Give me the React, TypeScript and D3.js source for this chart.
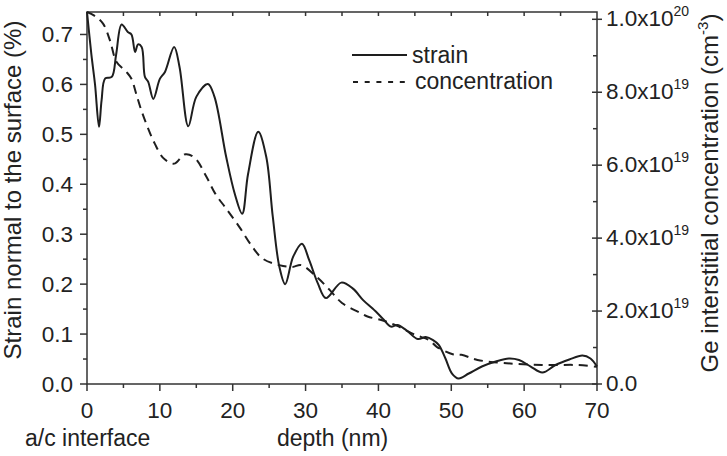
import React from "react";
import * as d3 from "d3";

// Strain normal to the surface (%) versus depth (nm)
const strainDepth = [0, 0.6, 1.1, 1.65, 2.0, 2.5, 3.4, 4.0, 4.75, 5.6, 6.1, 6.6, 7.0, 7.5, 7.95, 8.4, 9.1, 10.0, 10.7, 11.96, 12.7, 13.9, 15.0, 16.6, 17.5, 19.1, 20.3, 21.3, 22.1, 23.5, 24.6, 25.5, 26.4, 27.2, 28.3, 29.5, 30.5, 31.7, 32.8, 34.9, 36.5, 37.9, 39.2, 40.6, 41.7, 42.6, 43.8, 45.4, 46.5, 47.5, 48.3, 49.2, 50.1, 51.0, 52.4, 54.2, 56.1, 57.9, 59.3, 60.9, 62.5, 64.3, 66.2, 68.0, 69.1, 70];
const strainValues = [0.745, 0.66, 0.6, 0.515, 0.568, 0.612, 0.615, 0.66, 0.72, 0.705, 0.7, 0.665, 0.68, 0.675, 0.615, 0.605, 0.571, 0.611, 0.625, 0.675, 0.635, 0.516, 0.575, 0.601, 0.575, 0.455, 0.38, 0.341, 0.42, 0.505, 0.455, 0.335, 0.235, 0.2, 0.255, 0.281, 0.248, 0.201, 0.172, 0.203, 0.191, 0.168, 0.151, 0.131, 0.115, 0.118, 0.108, 0.09, 0.094, 0.088, 0.078, 0.051, 0.021, 0.011, 0.021, 0.035, 0.045, 0.051, 0.048, 0.035, 0.023, 0.038, 0.049, 0.057, 0.051, 0.035];

// Ge interstitial concentration (x1e19 cm^-3) versus depth (nm)
const concDepth = [0, 1.0, 2.2, 3.15, 4.06, 5.4, 6.1, 6.75, 7.45, 8.4, 9.3, 10.45, 11.6, 12.1, 13.5, 14.8, 16.3, 17.6, 19.1, 20.9, 22.7, 24.1, 26.4, 28.2, 29.4, 31.5, 33.3, 35.0, 37.4, 38.5, 40.5, 42.5, 45.0, 47.0, 48.0, 50.3, 51.4, 53.6, 57.6, 62.5, 67.5, 70];
const concValues = [10.2, 10.1, 9.88, 9.42, 8.83, 8.56, 8.37, 7.96, 7.51, 7.0, 6.59, 6.2, 6.05, 6.05, 6.3, 6.2, 5.72, 5.22, 4.81, 4.31, 3.76, 3.44, 3.26, 3.21, 3.26, 2.94, 2.58, 2.22, 1.96, 1.85, 1.75, 1.6, 1.35, 1.2, 1.02, 0.81, 0.8, 0.66, 0.57, 0.52, 0.52, 0.47];

const xTicks = [0, 10, 20, 30, 40, 50, 60, 70];
const leftTicks = [0, 0.1, 0.2, 0.3, 0.4, 0.5, 0.6, 0.7];
const rightTicks = [0, 2, 4, 6, 8, 10];

const W = 727;
const H = 456;
const M = { left: 87, right: 597, top: 12, bottom: 384 };
const FONT = "'Liberation Sans', Arial, Helvetica, sans-serif";
const INK = "#1e1e1e";
const TXT = "#222";
const TICK_FS = 22.5;

export default function App() {
  const x = d3.scaleLinear().domain([0, 70]).range([M.left, M.right]);
  const yL = d3.scaleLinear().domain([0, 0.745]).range([M.bottom, M.top]);
  const yR = d3.scaleLinear().domain([0, 10.2]).range([M.bottom, M.top]);

  const strainLine = d3
    .line<number>()
    .x((_, i) => x(strainDepth[i]))
    .y((v) => yL(v))
    .curve(d3.curveCatmullRom.alpha(0.5));
  const concLine = d3
    .line<number>()
    .x((_, i) => x(concDepth[i]))
    .y((v) => yR(v))
    .curve(d3.curveCatmullRom.alpha(0.5));

  const minorX = d3.range(5, 70, 10);
  const topX = d3.range(5, 70, 5);
  const minorL = d3.range(0.05, 0.75, 0.1);
  const minorR = d3.range(1, 10.2, 2);

  const rightLabel = (v: number) => {
    if (v === 0) return <tspan>0.0</tspan>;
    const exp = v >= 10 ? 20 : 19;
    const mant = v >= 10 ? v / 10 : v;
    return (
      <>
        <tspan>{mant.toFixed(1) + "x10"}</tspan>
        <tspan fontSize={14} dy={-10}>{exp}</tspan>
      </>
    );
  };

  return (
    <svg
      width={W}
      height={H}
      viewBox={`0 0 ${W} ${H}`}
      style={{ position: "absolute", left: 0, top: 0, background: "#fff" }}
      fontFamily={FONT}
    >
      <rect x={0} y={0} width={W} height={H} fill="#fff" />

      {/* frame */}
      <rect
        x={M.left}
        y={M.top}
        width={M.right - M.left}
        height={M.bottom - M.top}
        fill="none"
        stroke="#333"
        strokeWidth={1.5}
      />

      {/* bottom axis ticks */}
      {xTicks.map((t) => (
        <line key={"xb" + t} x1={x(t)} x2={x(t)} y1={M.bottom} y2={M.bottom + 7} stroke="#333" strokeWidth={1.5} />
      ))}
      {minorX.map((t) => (
        <line key={"xm" + t} x1={x(t)} x2={x(t)} y1={M.bottom} y2={M.bottom + 4} stroke="#333" strokeWidth={1.5} />
      ))}
      {/* top axis ticks */}
      {topX.map((t) => (
        <line key={"xt" + t} x1={x(t)} x2={x(t)} y1={M.top} y2={M.top + 4} stroke="#333" strokeWidth={1.5} />
      ))}
      {xTicks.map((t) => (
        <text key={"xl" + t} x={x(t)} y={418} textAnchor="middle" fontSize={TICK_FS} fill={TXT}>
          {t}
        </text>
      ))}

      {/* left axis ticks */}
      {leftTicks.map((t) => (
        <line key={"lt" + t} x1={M.left - 7} x2={M.left} y1={yL(t)} y2={yL(t)} stroke="#333" strokeWidth={1.5} />
      ))}
      {minorL.map((t) => (
        <line key={"lm" + t} x1={M.left - 4} x2={M.left} y1={yL(t)} y2={yL(t)} stroke="#333" strokeWidth={1.5} />
      ))}
      {leftTicks.map((t) => (
        <text key={"ll" + t} x={73} y={yL(t) + 8} textAnchor="end" fontSize={TICK_FS} fill={TXT}>
          {t.toFixed(1)}
        </text>
      ))}

      {/* right axis ticks */}
      {rightTicks.map((t) => (
        <line key={"rt" + t} x1={M.right - 5} x2={M.right + 5} y1={yR(t)} y2={yR(t)} stroke="#333" strokeWidth={1.5} />
      ))}
      {minorR.map((t) => (
        <line key={"rm" + t} x1={M.right - 4} x2={M.right} y1={yR(t)} y2={yR(t)} stroke="#333" strokeWidth={1.5} />
      ))}
      {rightTicks.map((t) => (
        <text key={"rl" + t} x={606} y={yR(t) + 7} textAnchor="start" fontSize={TICK_FS} fill={TXT}>
          {rightLabel(t)}
        </text>
      ))}

      {/* data */}
      <path d={concLine(concValues) ?? ""} fill="none" stroke={INK} strokeWidth={2} strokeDasharray="9,6" />
      <path d={strainLine(strainValues) ?? ""} fill="none" stroke={INK} strokeWidth={2} />

      {/* legend */}
      <line x1={352} x2={407} y1={55} y2={55} stroke={INK} strokeWidth={2} />
      <text x={412} y={63} fontSize={23} fill={TXT}>strain</text>
      <line x1={353} x2={410} y1={82} y2={82} stroke={INK} strokeWidth={2} strokeDasharray="5,6.7" />
      <text x={415} y={89} fontSize={23} fill={TXT}>concentration</text>

      {/* axis titles */}
      <text x={25} y={446} fontSize={23} fill={TXT}>a/c interface</text>
      <text x={277} y={446} fontSize={23} fill={TXT}>depth (nm)</text>
      <text
        transform={`translate(21,190) rotate(-90)`}
        textAnchor="middle"
        fontSize={24}
        fill={TXT}
      >
        Strain normal to the surface (%)
      </text>
      <text
        transform={`translate(718,193) rotate(-90)`}
        textAnchor="middle"
        fontSize={24}
        fill={TXT}
      >
        <tspan>Ge interstitial concentration (cm</tspan>
        <tspan fontSize={15} dy={-10}>-3</tspan>
        <tspan dy={10}>)</tspan>
      </text>
    </svg>
  );
}
